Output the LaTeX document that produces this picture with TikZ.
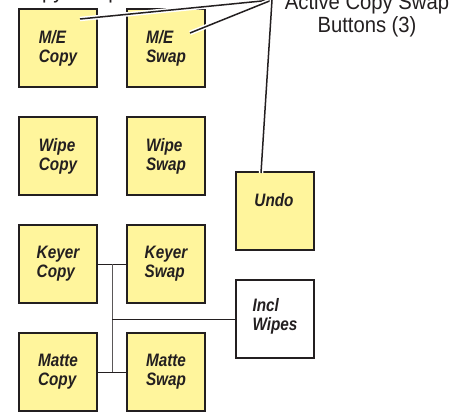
\documentclass[tikz,border=0pt]{standalone}
\usepackage{fontspec}
\setmainfont{Liberation Sans}
\newfontfamily\btnfont[FakeStretch=0.85]{Liberation Sans}
\newfontfamily\capfont[FakeStretch=0.92]{Liberation Sans}
\definecolor{btnyellow}{HTML}{FFF59C}
\definecolor{edge}{HTML}{231F20}
\begin{document}
\begin{tikzpicture}[x=1pt,y=-1pt,
  btn/.style={draw=edge, line width=1.8pt, fill=btnyellow, minimum width=78pt, minimum height=78pt, inner sep=0pt},
  wbtn/.style={btn, fill=white},
  lbl/.style={font=\btnfont\bfseries\itshape\fontsize{18}{19}\selectfont, align=left, text=edge, inner sep=0pt},
  captext/.style={font=\capfont\fontsize{22}{23}\selectfont, align=center, text=edge, inner sep=0pt},
  leader/.style={draw=edge, line width=1.5pt, preaction={draw=white, line width=4.5pt}},
  conn/.style={draw=edge, line width=0.8pt}]
\useasboundingbox (0,0) rectangle (465,412);
\clip (0,0) rectangle (465,412);
% buttons
\node[btn] (mecopy) at (58,48) {};
\node[btn] (meswap) at (166,48) {};
\node[btn] (wipecopy) at (58,156) {};
\node[btn] (wipeswap) at (166,156) {};
\node[btn] (undo) at (275,211) {};
\node[btn] (keyercopy) at (58,264) {};
\node[btn] (keyerswap) at (166,264) {};
\node[wbtn] (inclwipes) at (275,319) {};
\node[btn] (mattecopy) at (58,372) {};
\node[btn] (matteswap) at (166,372) {};
% labels
\node[lbl] (t1) at (mecopy) {M/E\\Copy};
\node[lbl] (t2) at (meswap) {M/E\\Swap};
\node[lbl] (t3) at (wipecopy) {Wipe\\Copy};
\node[lbl] (t4) at (wipeswap) {Wipe\\Swap};
\node[lbl] (t5) at (274,200) {Undo};
\node[lbl] (t6) at (keyercopy) {Keyer\\Copy};
\node[lbl] (t7) at (keyerswap) {Keyer\\Swap};
\node[lbl] (t8) at (275,316) {Incl\\Wipes};
\node[lbl] (t9) at (mattecopy) {Matte\\Copy};
\node[lbl] (t10) at (matteswap) {Matte\\Swap};
% captions
\node[captext, anchor=base] (capA) at (367,10) {Active Copy Swap};
\node[captext, anchor=base] (capB) at (367,33) {Buttons (3)};
\node[captext, anchor=base west] (capC) at (16,-1) {Copy Swap};
% leaders
\coordinate (apex) at (272,0);
\coordinate (e1) at (80,19);
\coordinate (e2) at (190,33);
\coordinate (e3) at (261,173);
\draw[leader] (apex) -- (e1);
\draw[leader] (apex) -- (e2);
\draw[leader] (apex) -- (e3);
% connectors
\coordinate (jk) at (112,264);
\coordinate (jm) at (112,372);
\coordinate (ji) at (112,319);
\draw[conn] (keyercopy.east) -- (keyerswap.west);
\draw[conn] (mattecopy.east) -- (matteswap.west);
\draw[conn, draw=edge!75] (jk) -- (jm);
\draw[conn] (ji) -- (inclwipes.west);
\end{tikzpicture}
\end{document}
